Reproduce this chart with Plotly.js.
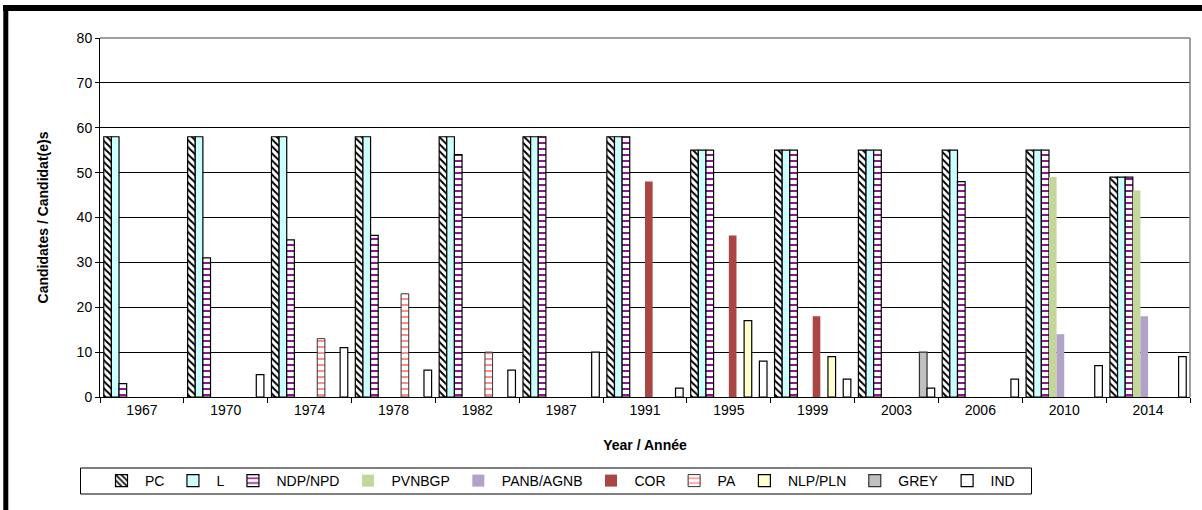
<!DOCTYPE html>
<html>
<head>
<meta charset="utf-8">
<script src="https://cdn.plot.ly/plotly-3.0.1.min.js"></script>
<style>
html,body{margin:0;padding:0;background:#fff;}
#chart{width:1202px;height:510px;}
</style>
</head>
<body>
<div id="chart"></div>
<script>
const years = ["1967","1970","1974","1978","1982","1987","1991","1995","1999","2003","2006","2010","2014"];
const PC      = [58,58,58,58,58,58,58,55,55,55,55,55,49];
const L       = [58,58,58,58,58,58,58,55,55,55,55,55,49];
const NDP     = [3,31,35,36,54,58,58,55,55,55,48,55,49];
const PVNBGP  = [0,0,0,0,0,0,0,0,0,0,0,49,46];
const PANB    = [0,0,0,0,0,0,0,0,0,0,0,14,18];
const COR     = [0,0,0,0,0,0,48,36,18,0,0,0,0];
const PA      = [0,0,13,23,10,0,0,0,0,0,0,0,0];
const NLP     = [0,0,0,0,0,0,0,17,9,0,0,0,0];
const GREY    = [0,0,0,0,0,0,0,0,0,10,0,0,0];
const IND     = [0,5,11,6,6,10,2,8,4,2,4,7,9];
const seriesNames = ["PC","L","NDP/NPD","PVNBGP","PANB/AGNB","COR","PA","NLP/PLN","GREY","IND"];
const seriesData = [PC,L,NDP,PVNBGP,PANB,COR,PA,NLP,GREY,IND];

const styles = [
  {color:"#ffffff", pattern:{shape:"\\", fgcolor:"#000000", bgcolor:"#ffffff", size:5, solidity:0.4}, line:{color:"#000", width:1.2}},
  {color:"#CCFFFF", line:{color:"#000", width:1.2}},
  {color:"#ffffff", pattern:{shape:"-", fgcolor:"#800080", bgcolor:"#ffffff", size:6, solidity:0.3}, line:{color:"#000", width:1.2}},
  {color:"#C3D69B", line:{width:0}},
  {color:"#B3A2C7", line:{width:0}},
  {color:"#AA4643", line:{width:0}},
  {color:"#ffffff", pattern:{shape:"-", fgcolor:"#FF8080", bgcolor:"#ffffff", size:6, solidity:0.3}, line:{color:"#333", width:1}},
  {color:"#FFFFCC", line:{color:"#000", width:1.2}},
  {color:"#C0C0C0", line:{color:"#333", width:1.2}},
  {color:"#ffffff", line:{color:"#000", width:1.2}}
];

const traces = seriesNames.map((n,i)=>({
  type:"bar",
  name:n,
  x:years,
  y:seriesData[i].map(v=>v===0?null:v),
  marker:styles[i],
  hoverinfo:"x+y+name"
}));

const W=1202,H=510,ml=100,mr=12,mt=38,mb=113;
const pw=W-ml-mr, ph=H-mt-mb;
function px(x){return (x-ml)/pw;}
function py(y){return (H-mb-y)/ph;}

const layout = {
  width:W, height:H,
  margin:{l:ml,r:mr,t:mt,b:mb},
  paper_bgcolor:"#fff",
  plot_bgcolor:"#fff",
  barmode:"group",
  bargap:0.09,
  bargroupgap:0,
  font:{family:"Liberation Sans, Arial, sans-serif", size:14, color:"#000"},
  xaxis:{
    type:"category",
    showline:true, linecolor:"#000", linewidth:1,
    ticks:"outside", tickson:"boundaries", ticklen:5, tickcolor:"#000",
    showgrid:false,
    tickfont:{size:14},
    title:{text:"<b>Year / Année</b>", font:{size:14}, standoff:23}
  },
  yaxis:{
    range:[0,80], dtick:10, tick0:0,
    showline:true, linecolor:"#000", linewidth:1,
    ticks:"outside", ticklen:4, tickcolor:"#000",
    showgrid:true, gridcolor:"#000", gridwidth:1,
    zeroline:false,
    tickfont:{size:14},
    title:{text:"<b>Candidates / Candidat(e)s</b>", font:{size:14}, standoff:24}
  },
  legend:{
    orientation:"h",
    x:px(98), xanchor:"left",
    y:py(481), yanchor:"middle",
    borderwidth:0,
    bgcolor:"rgba(0,0,0,0)",
    font:{size:14},
    itemwidth:37,
    traceorder:"normal"
  },
  showlegend:true,
  shapes:[
    {type:"line", xref:"paper", yref:"paper", x0:1, x1:1, y0:0, y1:1, line:{color:"#808080", width:1.5}},
    {type:"line", xref:"paper", yref:"paper", x0:0, x1:1, y0:1, y1:1, line:{color:"#808080", width:1.5}},
    {type:"rect", xref:"paper", yref:"paper", x0:px(80.5), x1:px(1031.5), y0:py(494), y1:py(468), line:{color:"#000", width:1}},
    {type:"line", xref:"paper", yref:"paper", x0:px(5.8), x1:px(5.8), y0:py(510), y1:py(5), line:{color:"#000", width:5}},
    {type:"line", xref:"paper", yref:"paper", x0:px(3), x1:px(1202), y0:py(8), y1:py(8), line:{color:"#000", width:6}}
  ]
};

Plotly.newPlot("chart", traces, layout, {displayModeBar:false, staticPlot:true});
</script>
</body>
</html>
